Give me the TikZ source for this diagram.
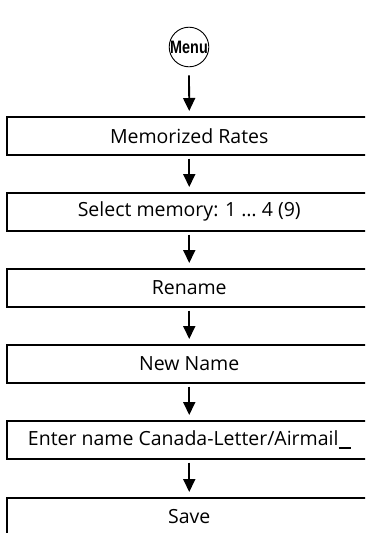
\documentclass[tikz,border=0pt]{standalone}
\usepackage{fontspec}
\setmainfont{Open Sans}
\newfontfamily\menufont[FakeStretch=0.8]{Liberation Sans Bold}
\usetikzlibrary{arrows.meta}
\begin{document}
\begin{tikzpicture}[x=1pt,y=-1pt,
  stepbox/.style={draw,line width=1.5pt,rectangle,minimum width=365pt,minimum height=38pt,inner sep=0pt,
    font=\fontsize{19.5}{22}\selectfont,anchor=north west},
  flow/.style={line width=1.8pt,-{Triangle[length=13pt,width=12pt]},shorten <=3pt,shorten >=5pt},
  menubtn/.style={draw,circle,line width=0.9pt,minimum size=36pt,inner sep=0pt,font=\menufont\fontsize{18}{20}\selectfont}]
\useasboundingbox (0,0) rectangle (365,533);
\clip (0,0) rectangle (365,533);
\node[menubtn] (menu) at (189,47) {Menu};
\node[stepbox] (b1) at (6,116) {Memorized Rates};
\node[stepbox] (b2) at (6,192) {Select memory: 1 \dots\ 4 (9)};
\node[stepbox] (b3) at (6,268) {Rename};
\node[stepbox] (b4) at (6,344) {New Name};
\node[stepbox] (b5) at (6,420) {Enter name Canada-Letter/Airmail\rule[-3pt]{12pt}{1.8pt}};
\node[stepbox] (b6) at (6,497) {Save};
\draw[flow,shorten <=8pt] (menu.south) -- (b1.north);
\draw[flow] (b1.south) -- (b2.north);
\draw[flow] (b2.south) -- (b3.north);
\draw[flow] (b3.south) -- (b4.north);
\draw[flow] (b4.south) -- (b5.north);
\draw[flow] (b5.south) -- (b6.north);
\end{tikzpicture}
\end{document}
